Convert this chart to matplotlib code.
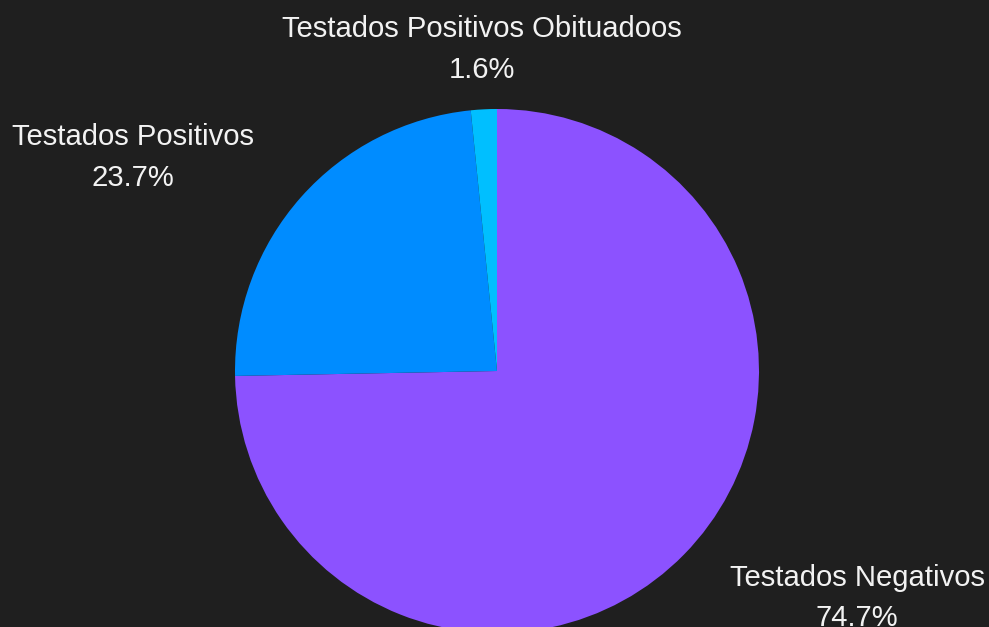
import matplotlib.pyplot as plt

plt.rcParams['font.family'] = ['Liberation Sans', 'DejaVu Sans']

# slice data
names = ["Testados Negativos", "Testados Positivos", "Testados Positivos Obituadoos"]
shares = [74.7, 23.7, 1.6]
colors = ["#8c52ff", "#008cff", "#00bfff"]

# label anchor points (pixel space of the canvas)
label_xy = [(857, 29), (133, 469.5), (481.5, 577.5)]

bg = "#1f1f1f"
fig = plt.figure(figsize=(9.89, 6.27), dpi=100, facecolor=bg)
ax = fig.add_axes([0, 0, 1, 1])
ax.set_facecolor(bg)

wedges, _ = ax.pie(shares, colors=colors, startangle=90, counterclock=False,
                   center=(497, 256), radius=262,
                   wedgeprops=dict(linewidth=0))

for name, val, (x, y) in zip(names, shares, label_xy):
    ax.text(x, y, f"{name}\n{val:.1f}%", ha="center", va="center",
            color="#f2f2f2", fontsize=21.1, linespacing=1.58)

ax.set_xlim(0, 989)
ax.set_ylim(0, 627)
ax.set_aspect("equal")
ax.axis("off")

fig.savefig("out.png", dpi=100, facecolor=bg)
